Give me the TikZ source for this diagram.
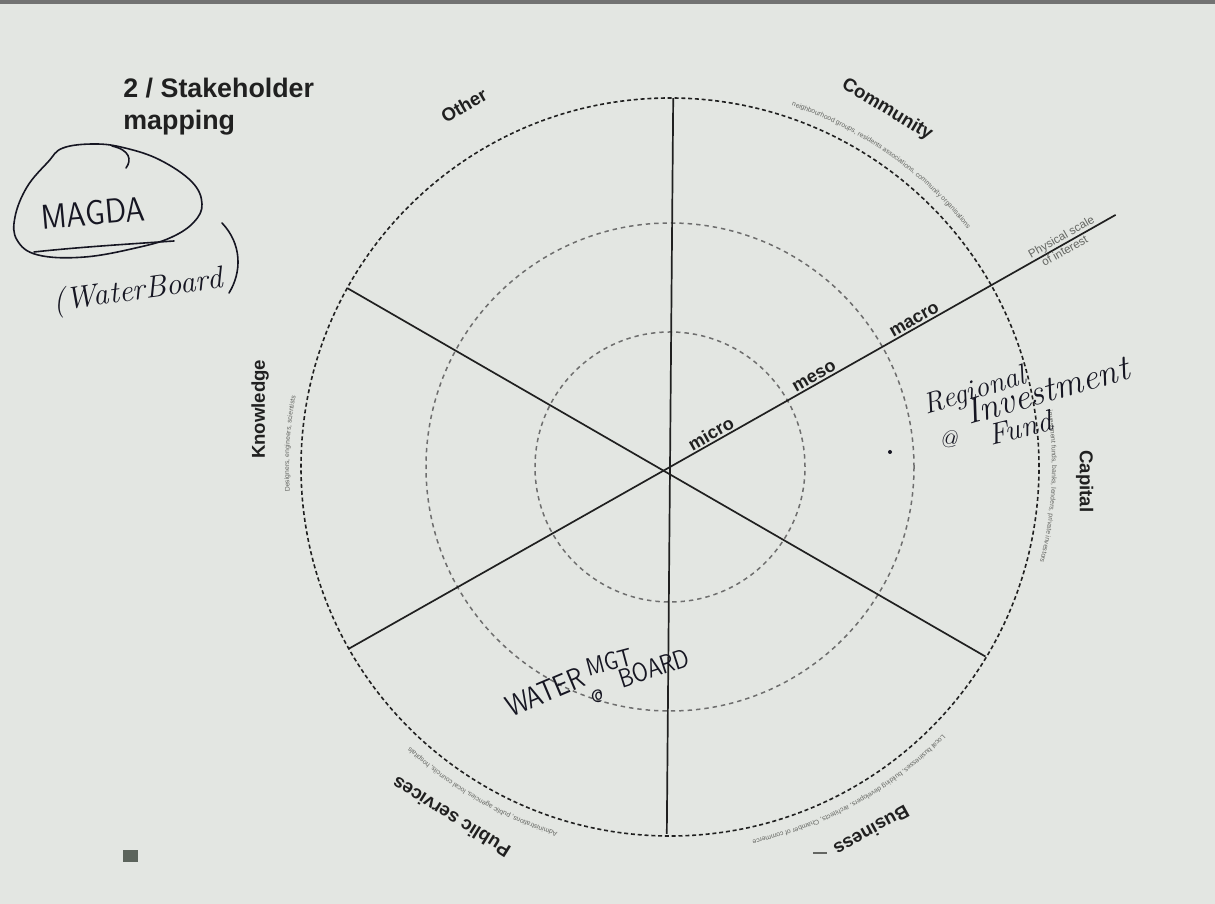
\documentclass[tikz,border=0pt]{standalone}
\usepackage{fontspec}
\newfontfamily\arial{Liberation Sans}
\usetikzlibrary{calc,decorations.text}
\definecolor{paper}{RGB}{227,230,226}
\definecolor{ink}{RGB}{32,32,32}
\definecolor{pen}{RGB}{22,22,34}
\definecolor{dgray}{RGB}{110,110,110}
\definecolor{smudge}{RGB}{100,102,98}
\definecolor{squarecol}{RGB}{92,100,92}
\tikzset{
  outerdash/.style={draw=ink, line width=0.8pt, dash pattern=on 2pt off 1.4pt},
  innerdash/.style={draw=dgray, line width=0.75pt, dash pattern=on 2.2pt off 2pt},
  spoke/.style={draw=ink, line width=0.85pt},
  lab/.style={font=\arial\bfseries\fontsize{9.3}{11}\selectfont, text=ink, inner sep=0pt},
  scalelab/.style={font=\arial\bfseries\fontsize{9}{11}\selectfont, text=ink, inner sep=1pt, anchor=south, rotate=29.5},
  tinylab/.style={font=\arial\fontsize{5.8}{6}\selectfont, text=smudge, inner sep=0.6pt, rotate=29.5},
  titlelab/.style={font=\arial\bfseries\fontsize{13.4}{16}\selectfont, text=ink, inner sep=0pt, anchor=base west},
  capsh/.style={font=\sffamily, text=pen, inner sep=0pt},
  cursh/.style={font=\itshape, text=pen, inner sep=0pt},
  penline/.style={draw=pen, line width=0.8pt, line cap=round, line join=round},
}
\newcommand{\arctext}[4]{%
  \path[decorate, decoration={text along path, text align=center,
    text={|\arial\fontsize{3.4}{4}\selectfont\color{smudge}|#4}}]
    ($(c)+(#1:#3)$) arc[start angle=#1, end angle=#2, radius=#3];}
\begin{document}
\begin{tikzpicture}[x=0.5pt,y=0.5pt]
\fill[paper] (0,0) rectangle (1215,904);
\useasboundingbox (0,0) rectangle (1215,904);
\fill[black!55] (0,900) rectangle (1215,904);

% centre and circles
\coordinate (c) at (670,437);
\draw[outerdash] (c) circle[radius=369];
\draw[innerdash] (c) circle[radius=244];
\draw[innerdash] (c) circle[radius=135];

% spokes
\coordinate (top) at ($(c)+(89.5:369)$);
\coordinate (bot) at ($(c)+(269.5:367)$);
\coordinate (ul) at ($(c)+(151:369)$);
\coordinate (lr) at ($(c)+(-31:368)$);
\coordinate (ur) at ($(c)+(29.5:512)$);
\coordinate (ll) at ($(c)+(209.5:369)$);
\draw[spoke] (top) -- (bot);
\draw[spoke] (ul) -- (lr);
\draw[spoke] (ll) -- (ur);

% scale labels
\node[scalelab] (micro) at ($(c)+(29.5:52)$) {micro};
\node[scalelab] (meso) at ($(c)+(29.5:170)$) {meso};
\node[scalelab] (macro) at ($(c)+(29.5:285)$) {macro};
\node[tinylab, anchor=south] (phys) at ($(c)+(29.5:454)$) {Physical scale};
\node[tinylab, anchor=north] (interest) at ($(c)+(29.5:450)$) {of interest};

% sector labels
\node[lab, rotate=-31] (community) at ($(c)+(58.7:418)$) {Community};
\node[lab, rotate=30] (other) at ($(c)+(119.7:416)$) {Other};
\node[lab, rotate=-90] (capital) at ($(c)+(-2:415)$) {Capital};
\node[lab, rotate=90] (knowledge) at ($(c)+(172:414)$) {Knowledge};
\node[lab, rotate=209] (business) at ($(c)+(-61:416)$) {Business};
\node[lab, rotate=148] (public) at ($(c)+(-122:413)$) {Public services};

% small descriptive texts along the circle
\arctext{74}{36}{381}{neighbourhood groups, residents associations, community organisations}
\arctext{11}{-17}{382}{investment funds, banks, lenders, private investors}
\arctext{184}{169}{381}{Designers, engineers, scientists}
\arctext{-104}{-136}{382}{Administrations, public agencies, local councils, hospitals}
\arctext{-40}{-82}{382}{Local businesses, building developers, architects, Chamber of commerce}

% title
\node[titlelab] (title1) at (123,806) {2 / Stakeholder};
\node[titlelab] (title2) at (123,774) {mapping};

% handwritten notes
\node[capsh, font=\sffamily\fontsize{15}{15}\selectfont, rotate=5, yscale=1.15] (magda) at (93,691) {MAGDA};
\draw[penline] plot[smooth cycle, tension=0.65] coordinates {(63,756) (95,760) (125,756) (160,744) (192,722) (202,700) (194,682) (172,667) (140,657) (85,647) (38,649) (17,664) (15,687) (27,717) (48,742)};
\draw[penline] (112,758) .. controls (130,754) and (132,744) .. (126,736);
\draw[penline] (34,652) .. controls (80,657) and (130,660) .. (174,663);
\node[cursh, font=\itshape\fontsize{15.5}{15}\selectfont, rotate=8] (water) at (138,612) {(WaterBoard};
\coordinate (parA) at (222,681);
\coordinate (parB) at (229,611);
\draw[penline] (parA) .. controls (242,660) and (242,632) .. (parB);

\node[cursh, font=\itshape\fontsize{14.5}{14}\selectfont, rotate=17] (regional) at (975,512) {Regional};
\node[cursh, font=\itshape\fontsize{18}{18}\selectfont, rotate=16] (invest) at (1047,514) {Investment};
\node[cursh, font=\itshape\fontsize{12}{12}\selectfont] (at1) at (948,465) {@};
\node[cursh, font=\itshape\fontsize{15}{15}\selectfont, rotate=14] (fund) at (1020,476) {Fund};
\fill[pen] (890,452) circle[radius=2];

\node[capsh, font=\sffamily\fontsize{12.5}{12}\selectfont, rotate=23, yscale=1.2] (wat) at (545,212) {WATER};
\node[capsh, font=\sffamily\fontsize{10.5}{10}\selectfont, rotate=15, yscale=1.2] (mgt) at (609,242) {MGT};
\node[capsh, font=\sffamily\fontsize{9}{9}\selectfont] (at2) at (597,208) {@};
\node[capsh, font=\sffamily\fontsize{11}{11}\selectfont, rotate=18, yscale=1.2] (board) at (654,236) {BOARD};

% stray marks
\fill[squarecol] (123,42) rectangle (138,54);
\draw[smudge, line width=0.6pt] (813,51) -- (827,51);
\end{tikzpicture}
\end{document}
